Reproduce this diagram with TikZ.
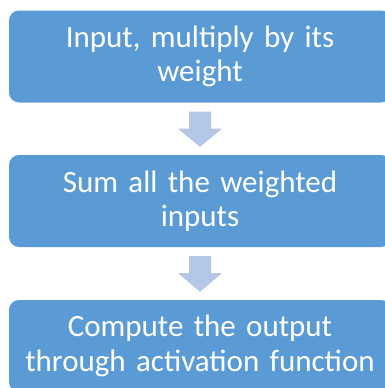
\documentclass[tikz,border=0pt]{standalone}
\usepackage{fontspec}
\setmainfont{Carlito}
\usetikzlibrary{calc}
\definecolor{stepblue}{HTML}{5B9BD5}
\definecolor{arrowblue}{HTML}{B4C7E7}
\tikzset{
  stepbox/.style={fill=stepblue, draw=none, rounded corners=10pt,
    minimum width=382pt, minimum height=92pt, text width=378pt,
    align=center, text=white, inner sep=0pt,
    font=\fontsize{31}{34.5}\selectfont},
  blockarrow/.style={fill=arrowblue, draw=none}
}
\begin{document}
\begin{tikzpicture}[x=1pt,y=-1pt]
  \useasboundingbox (0,0) rectangle (385,388);
  \node[stepbox] (s1) at (200,56.5) {Input, multiply by its\\weight};
  \node[stepbox] (s2) at (200,201) {Sum all the weighted\\inputs};
  \node[stepbox] (s3) at (200,346) {Compute the output\\through activation function};
  % block arrows between consecutive steps
  \foreach \a/\b in {s1/s2, s2/s3}{
    \fill[blockarrow]
      ($(\a.south)+(-11,9)$) -- ($(\a.south)+(11,9)$) --
      ($(\a.south)+(11,26)$) -- ($(\a.south)+(22,26)$) --
      ($(\b.north)+(0,-8)$) --
      ($(\a.south)+(-22,26)$) -- ($(\a.south)+(-11,26)$) -- cycle;
  }
\end{tikzpicture}
\end{document}
